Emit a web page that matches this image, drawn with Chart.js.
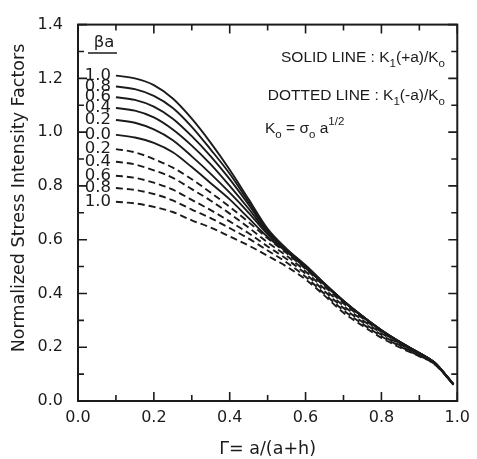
<!DOCTYPE html>
<html>
<head>
<meta charset="utf-8">
<title>Normalized Stress Intensity Factors</title>
<script src="https://cdn.jsdelivr.net/npm/chart.js@4/dist/chart.umd.min.js"></script>
<style>
  html, body { margin: 0; padding: 0; background: #fff; }
  #wrap { width: 477px; height: 459px; }
</style>
</head>
<body>
<div id="wrap"><canvas id="sifChart" width="477" height="459"></canvas></div>
<script>
// Gamma = a/(a+h)
const gamma = [0.1, 0.15, 0.2, 0.25, 0.3, 0.35, 0.4, 0.45, 0.5, 0.55, 0.6, 0.65, 0.7, 0.75, 0.8, 0.85, 0.9, 0.94, 0.99];

// K1(+a)/Ko, solid curves (beta*a = 1.0 ... 0.0)
const solid10 = [1.21, 1.20, 1.175, 1.125, 1.05, 0.96, 0.86, 0.75, 0.64, 0.566, 0.505, 0.437, 0.373, 0.316, 0.264, 0.219, 0.179, 0.143, 0.062];
const solid08 = [1.17, 1.16, 1.135, 1.09, 1.02, 0.935, 0.845, 0.74, 0.635, 0.564, 0.503, 0.436, 0.372, 0.315, 0.263, 0.218, 0.178, 0.143, 0.062];
const solid06 = [1.13, 1.12, 1.095, 1.05, 0.985, 0.91, 0.825, 0.73, 0.63, 0.562, 0.501, 0.435, 0.372, 0.315, 0.263, 0.218, 0.178, 0.143, 0.062];
const solid04 = [1.09, 1.08, 1.055, 1.01, 0.95, 0.88, 0.80, 0.715, 0.625, 0.56, 0.499, 0.434, 0.371, 0.314, 0.262, 0.218, 0.178, 0.143, 0.062];
const solid02 = [1.045, 1.035, 1.01, 0.97, 0.91, 0.845, 0.775, 0.70, 0.62, 0.558, 0.497, 0.433, 0.371, 0.314, 0.262, 0.217, 0.178, 0.143, 0.062];
const solid00 = [0.99, 0.98, 0.96, 0.925, 0.87, 0.81, 0.75, 0.68, 0.61, 0.555, 0.495, 0.432, 0.37, 0.313, 0.261, 0.217, 0.177, 0.142, 0.062];

// K1(-a)/Ko, dotted curves (beta*a = 0.2 ... 1.0)
const dotted02 = [0.937, 0.925, 0.9, 0.868, 0.825, 0.775, 0.722, 0.665, 0.605, 0.55, 0.491, 0.426, 0.363, 0.308, 0.257, 0.214, 0.176, 0.142, 0.062];
const dotted04 = [0.89, 0.88, 0.858, 0.83, 0.788, 0.745, 0.697, 0.645, 0.59, 0.54, 0.482, 0.417, 0.354, 0.301, 0.252, 0.21, 0.173, 0.141, 0.062];
const dotted06 = [0.838, 0.83, 0.812, 0.786, 0.748, 0.71, 0.668, 0.624, 0.575, 0.528, 0.473, 0.408, 0.346, 0.294, 0.246, 0.206, 0.171, 0.139, 0.062];
const dotted08 = [0.792, 0.785, 0.77, 0.746, 0.712, 0.68, 0.643, 0.604, 0.56, 0.515, 0.462, 0.398, 0.337, 0.287, 0.241, 0.202, 0.168, 0.138, 0.061];
const dotted10 = [0.741, 0.735, 0.722, 0.703, 0.672, 0.645, 0.612, 0.578, 0.54, 0.50, 0.452, 0.392, 0.328, 0.28, 0.235, 0.198, 0.166, 0.137, 0.06];

const solidSeries = [solid10, solid08, solid06, solid04, solid02, solid00];
const solidLabels = ['1.0', '0.8', '0.6', '0.4', '0.2', '0.0'];
const dottedSeries = [dotted02, dotted04, dotted06, dotted08, dotted10];
const dottedLabels = ['0.2', '0.4', '0.6', '0.8', '1.0'];

const xTickLabels = ['0.0', '0.2', '0.4', '0.6', '0.8', '1.0'];
const yTickLabels = ['0.0', '0.2', '0.4', '0.6', '0.8', '1.0', '1.2', '1.4'];

const ink = '#1b1b1b';
const fontFamily = '"DejaVu Sans", "Liberation Sans", sans-serif';
const legendFamily = '"Liberation Sans", Arial, sans-serif';

function toPoints(values) {
    return values.map((v, i) => ({ x: gamma[i], y: v }));
}

const datasets = [];
solidSeries.forEach((vals, i) => {
    datasets.push({
        label: solidLabels[i],
        data: toPoints(vals),
        borderColor: ink,
        borderWidth: 1.9,
        pointRadius: 0,
        cubicInterpolationMode: 'monotone',
        fill: false
    });
});
dottedSeries.forEach((vals, i) => {
    datasets.push({
        label: dottedLabels[i],
        data: toPoints(vals),
        borderColor: ink,
        borderWidth: 1.9,
        borderDash: [7, 4],
        pointRadius: 0,
        cubicInterpolationMode: 'monotone',
        fill: false
    });
});

// texto com subscritos / sobrescritos
function drawRich(ctx, parts, x, y, align) {
    const size = 15.5;
    const small = 11.5;
    let total = 0;
    parts.forEach(p => {
        ctx.font = (p.sub || p.sup ? small : size) + 'px ' + legendFamily;
        total += ctx.measureText(p.t).width;
    });
    let cx = align === 'right' ? x - total : x;
    parts.forEach(p => {
        ctx.font = (p.sub || p.sup ? small : size) + 'px ' + legendFamily;
        let dy = 0;
        if (p.sub) dy = 5;
        if (p.sup) dy = -8;
        ctx.fillText(p.t, cx, y + dy);
        cx += ctx.measureText(p.t).width;
    });
}

// caixa, marcas internas e anotações
const framePlugin = {
    id: 'frame',
    afterDatasetsDraw(chart) {
        const ctx = chart.ctx;
        const area = chart.chartArea;
        const xs = chart.scales.x;
        const ys = chart.scales.y;
        ctx.save();
        ctx.strokeStyle = ink;
        ctx.lineWidth = 2;
        ctx.strokeRect(area.left, area.top, area.right - area.left, area.bottom - area.top);

        ctx.lineWidth = 1.6;
        ctx.beginPath();
        for (let i = 0; i <= 10; i++) {
            const px = xs.getPixelForValue(i / 10);
            const len = i % 2 === 0 ? 9 : 6;
            ctx.moveTo(px, area.bottom);
            ctx.lineTo(px, area.bottom - len);
            ctx.moveTo(px, area.top);
            ctx.lineTo(px, area.top + len);
        }
        for (let i = 0; i <= 14; i++) {
            const py = ys.getPixelForValue(i / 10);
            const len = i % 2 === 0 ? 9 : 6;
            ctx.moveTo(area.left, py);
            ctx.lineTo(area.left + len, py);
            ctx.moveTo(area.right, py);
            ctx.lineTo(area.right - len, py);
        }
        ctx.stroke();

        ctx.fillStyle = ink;
        ctx.font = '17.5px ' + fontFamily;

        // títulos dos eixos
        ctx.textAlign = 'center';
        ctx.textBaseline = 'middle';
        ctx.fillText('\u0393= a/(a+h)', (area.left + area.right) / 2, 449);
        ctx.save();
        ctx.translate(19, 198);
        ctx.rotate(-Math.PI / 2);
        ctx.fillText('Normalized Stress Intensity Factors', 0, 0);
        ctx.restore();

        // rótulos de beta*a no início de cada curva
        ctx.font = '16.5px ' + fontFamily;
        ctx.textAlign = 'right';
        chart.data.datasets.forEach((ds, i) => {
            const first = chart.getDatasetMeta(i).data[0];
            ctx.fillText(ds.label, first.x - 5, first.y);
        });
        ctx.textAlign = 'center';
        ctx.fillText('\u03b2a', 104, 43);
        ctx.lineWidth = 1.5;
        ctx.beginPath();
        ctx.moveTo(88, 53);
        ctx.lineTo(117, 53);
        ctx.stroke();

        // legenda
        ctx.textAlign = 'left';
        ctx.textBaseline = 'alphabetic';
        drawRich(ctx, [{ t: 'SOLID LINE : K' }, { t: '1', sub: true }, { t: '(+a)/K' }, { t: 'o', sub: true }], 445, 62, 'right');
        drawRich(ctx, [{ t: 'DOTTED LINE : K' }, { t: '1', sub: true }, { t: '(-a)/K' }, { t: 'o', sub: true }], 445, 100, 'right');
        drawRich(ctx, [{ t: 'K' }, { t: 'o', sub: true }, { t: ' = \u03c3' }, { t: 'o', sub: true }, { t: ' a' }, { t: '1/2', sup: true }], 265, 133, 'left');
        ctx.restore();
    }
};

const ctx = document.getElementById('sifChart').getContext('2d');
const sifChart = new Chart(ctx, {
    type: 'line',
    data: { datasets: datasets },
    options: {
        responsive: false,
        animation: false,
        events: [],
        layout: { padding: { top: 15, right: 11, left: 0, bottom: 0 } },
        plugins: {
            legend: { display: false },
            tooltip: { enabled: false }
        },
        scales: {
            x: {
                type: 'linear',
                min: 0,
                max: 1,
                grid: { display: false, drawTicks: false },
                border: { display: false },
                afterBuildTicks: scale => {
                    scale.ticks = xTickLabels.map(t => ({ value: parseFloat(t) }));
                },
                afterFit: scale => { scale.height = 58; },
                ticks: {
                    padding: 7,
                    color: ink,
                    font: { family: fontFamily, size: 16 },
                    callback: v => v.toFixed(1)
                }
            },
            y: {
                min: 0,
                max: 1.4,
                grid: { display: false, drawTicks: false },
                border: { display: false },
                afterBuildTicks: scale => {
                    scale.ticks = yTickLabels.map(t => ({ value: parseFloat(t) }));
                },
                afterFit: scale => { scale.width = 78; },
                ticks: {
                    padding: 15,
                    color: ink,
                    font: { family: fontFamily, size: 16 },
                    callback: v => v.toFixed(1)
                }
            }
        }
    },
    plugins: [framePlugin]
});
</script>
</body>
</html>
